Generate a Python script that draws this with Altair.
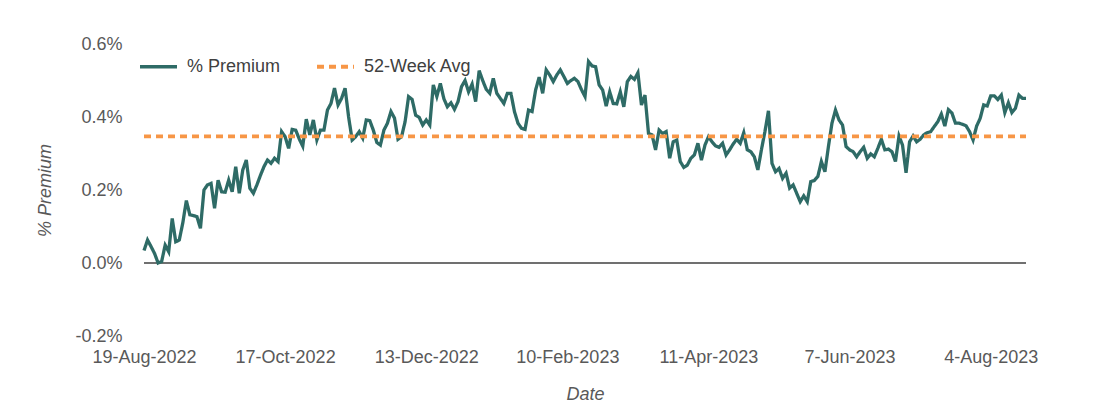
import altair as alt
import pandas as pd

TICK_POS = [0, 40, 80, 120, 160, 200, 240]
TICK_LABELS = ["19-Aug-2022", "17-Oct-2022", "13-Dec-2022", "10-Feb-2023",
               "11-Apr-2023", "7-Jun-2023", "4-Aug-2023"]
Y_TICKS = [-0.2, 0.0, 0.2, 0.4, 0.6]

PREMIUM = [
    0.034, 0.063, 0.045, 0.026, 0.000, 0.004, 0.049, 0.031, 0.122, 0.058,
    0.063, 0.110, 0.171, 0.132, 0.130, 0.127, 0.095, 0.200, 0.214, 0.218,
    0.150, 0.227, 0.195, 0.194, 0.227, 0.195, 0.264, 0.191, 0.255, 0.282,
    0.205, 0.191, 0.214, 0.240, 0.264, 0.282, 0.273, 0.287, 0.278, 0.360,
    0.346, 0.314, 0.366, 0.364, 0.340, 0.320, 0.394, 0.351, 0.392, 0.337,
    0.364, 0.364, 0.419, 0.437, 0.479, 0.433, 0.451, 0.479, 0.400, 0.337,
    0.346, 0.360, 0.342, 0.392, 0.390, 0.364, 0.330, 0.323, 0.364, 0.383,
    0.415, 0.397, 0.339, 0.346, 0.387, 0.456, 0.448, 0.405, 0.399, 0.378,
    0.392, 0.378, 0.488, 0.456, 0.492, 0.450, 0.428, 0.439, 0.421, 0.442,
    0.483, 0.500, 0.469, 0.490, 0.442, 0.527, 0.500, 0.476, 0.465, 0.506,
    0.465, 0.451, 0.437, 0.465, 0.465, 0.415, 0.383, 0.369, 0.366, 0.419,
    0.415, 0.474, 0.509, 0.465, 0.529, 0.515, 0.497, 0.515, 0.529, 0.511,
    0.492, 0.500, 0.506, 0.497, 0.475, 0.456, 0.552, 0.540, 0.538, 0.488,
    0.474, 0.430, 0.469, 0.437, 0.436, 0.469, 0.428, 0.497, 0.511, 0.503,
    0.521, 0.433, 0.460, 0.355, 0.351, 0.310, 0.364, 0.355, 0.360, 0.287,
    0.332, 0.337, 0.278, 0.262, 0.268, 0.287, 0.296, 0.328, 0.282, 0.323,
    0.346, 0.332, 0.321, 0.317, 0.328, 0.296, 0.310, 0.326, 0.339, 0.328,
    0.357, 0.310, 0.305, 0.291, 0.255, 0.310, 0.360, 0.417, 0.273, 0.250,
    0.259, 0.232, 0.246, 0.205, 0.214, 0.191, 0.168, 0.184, 0.168, 0.223,
    0.226, 0.237, 0.278, 0.250, 0.319, 0.383, 0.419, 0.392, 0.378, 0.319,
    0.310, 0.305, 0.291, 0.305, 0.317, 0.287, 0.299, 0.291, 0.314, 0.339,
    0.310, 0.312, 0.305, 0.278, 0.348, 0.323, 0.247, 0.332, 0.348, 0.332,
    0.339, 0.351, 0.357, 0.360, 0.374, 0.387, 0.408, 0.375, 0.420, 0.411,
    0.383, 0.383, 0.380, 0.376, 0.360, 0.337, 0.375, 0.396, 0.433, 0.430,
    0.458, 0.458, 0.448, 0.460, 0.412, 0.439, 0.412, 0.424, 0.460, 0.451,
    0.451,
]
AVG_52W = 0.347
SERIES = ["% Premium", "52-Week Avg"]

n = len(PREMIUM)
df = pd.DataFrame({
    "idx": list(range(n)) + [0, n - 1],
    "value": PREMIUM + [AVG_52W, AVG_52W],
    "series": [SERIES[0]] * n + [SERIES[1]] * 2,
})
zero_df = pd.DataFrame({"v": [0.0]})

FONT = "Liberation Sans"
TEAL = "#2E6B66"
ORANGE = "#F79646"
GRAY = "#595959"

x_label_expr = ("[" + ",".join("'" + s + "'" for s in TICK_LABELS) + "][indexof(["
                + ",".join(str(p) for p in TICK_POS) + "], datum.value)]")
y_label_expr = "(datum.value < -0.0001 ? '-' : '') + format(abs(datum.value), '.1f') + '%'"

legend = alt.Legend(
    title=None, orient="none", legendX=-6, legendY=2, direction="horizontal",
    symbolType="stroke", symbolSize=1369, symbolStrokeWidth=3.3,
    labelFontSize=18, labelFont=FONT, labelColor="#404040", labelOffset=8,
    columnPadding=28,
)

line = alt.Chart(df).mark_line().encode(
    x=alt.X("idx:Q",
            scale=alt.Scale(domain=[0, n - 1], nice=False, zero=False),
            axis=alt.Axis(values=TICK_POS, labelExpr=x_label_expr, title="Date",
                          grid=False, domain=False, ticks=False,
                          labelPadding=12, labelFontSize=18, labelFont=FONT,
                          labelColor=GRAY, titleFont=FONT, titleFontSize=18,
                          titleFontStyle="italic", titleFontWeight="normal",
                          titleColor=GRAY, titlePadding=19, labelFlush=False)),
    y=alt.Y("value:Q",
            scale=alt.Scale(domain=[-0.2, 0.6], nice=False),
            axis=alt.Axis(values=Y_TICKS, labelExpr=y_label_expr, title="% Premium",
                          grid=False, domain=False, ticks=False,
                          labelPadding=22, labelFontSize=18, labelFont=FONT,
                          labelColor=GRAY, titleFont=FONT, titleFontSize=18,
                          titleFontStyle="italic", titleFontWeight="normal",
                          titleColor=GRAY, titlePadding=20)),
    color=alt.Color("series:N", scale=alt.Scale(domain=SERIES, range=[TEAL, ORANGE]),
                    legend=legend),
    strokeDash=alt.StrokeDash("series:N",
                              scale=alt.Scale(domain=SERIES, range=[[1, 0], [7, 5]]),
                              legend=legend),
    strokeWidth=alt.StrokeWidth("series:N",
                                scale=alt.Scale(domain=SERIES, range=[3.3, 3.8]),
                                legend=None),
)

zero = alt.Chart(zero_df).mark_rule(color="#404040", strokeWidth=1.5).encode(
    y=alt.Y("v:Q")
)

chart = alt.layer(zero, line).properties(
    width=882, height=292,
    padding={"left": 136, "top": 36, "right": 62, "bottom": 68},
    autosize=alt.AutoSizeParams(type="none"),
    background="white",
).configure_view(stroke=None)

chart.save("out.html", embed_options={"renderer": "svg", "actions": False})
